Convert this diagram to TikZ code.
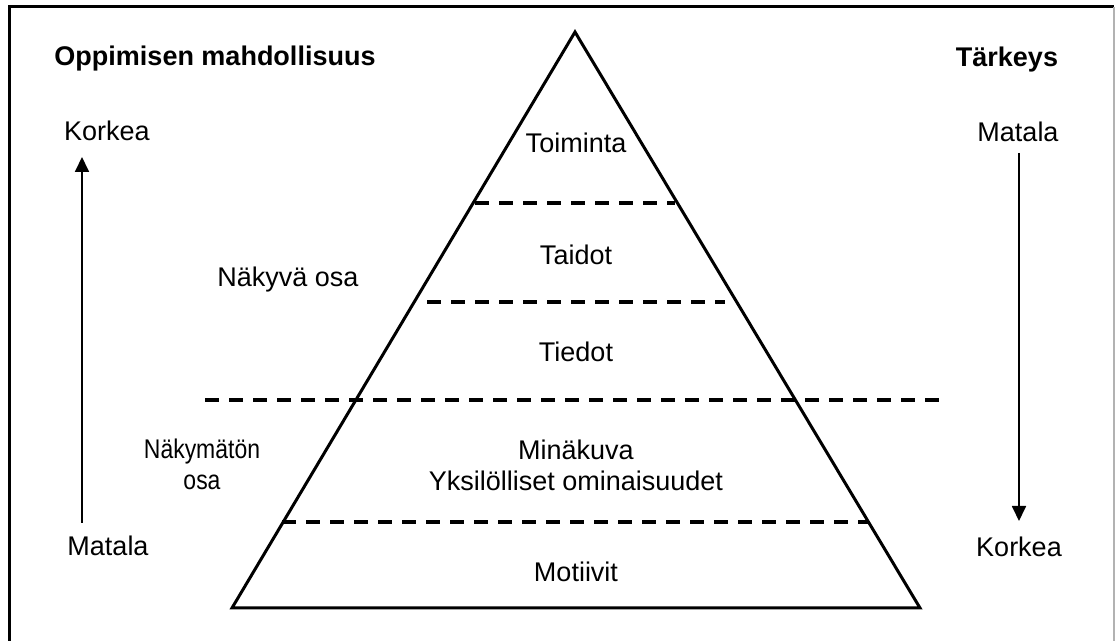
\documentclass[tikz,border=0pt]{standalone}
\usepackage{fontspec}
\setmainfont{Liberation Sans}
\usetikzlibrary{arrows.meta,positioning}
\tikzset{
  lbl/.style={font=\fontsize{13.5}{15.5}\selectfont, inner sep=0pt, anchor=base, align=center},
  hdr/.style={lbl, font=\fontsize{13.5}{15.5}\selectfont\bfseries},
  narrow/.style={lbl, font=\fontsize{13.5}{15.5}\selectfont\addfontfeature{FakeStretch=0.85}},
  cut/.style={line width=2pt, dash pattern=on 7pt off 5pt},
  edge/.style={line width=1.5pt},
  scalearrow/.style={line width=0.9pt, -{Triangle[length=7.5pt,width=7pt]}}
}

\begin{document}
\begin{tikzpicture}[x=0.5pt,y=-0.5pt]
  \useasboundingbox (0,0) rectangle (1116,641);
  % frame (open at the bottom)
  \draw[line width=1.5pt] (9,641) -- (9,7) -- (1114,7);
  \draw[gray!60, line width=0.6pt] (1114,7) -- (1114,641);

  % pyramid
  \coordinate (apex) at (575,32);
  \coordinate (bl) at (232,608);
  \coordinate (br) at (920,608);
  \draw[edge] (apex) -- (br) -- (bl) -- cycle;

  % layer borders
  \foreach \y/\a/\b in {203/475/675, 302/427/725, 400/205/940, 522/282/868}{
    \draw[cut] (\a,\y) -- (\b,\y);
  }

  % layer names
  \foreach \n/\y/\t in {toim/153/Toiminta, taid/265/Taidot, tied/362/Tiedot, moti/582/Motiivit}{
    \node[lbl] (\n) at (576,\y) {\t};
  }
  \node[lbl] (mina) at (576,491) {Minäkuva\\Yksilölliset ominaisuudet};

  % side texts
  \node[hdr] (oppi) at (215,66) {Oppimisen mahdollisuus};
  \node[hdr] (tark) at (1007,67) {Tärkeys};
  \node[lbl] (nakyva) at (288,287) {Näkyvä osa};
  \node[narrow] (nakymaton) at (202,490) {Näkymätön\\osa};

  \node[lbl] (korkeaL) at (107,141) {Korkea};
  \node[lbl] (matalaL) at (108,556) {Matala};
  \node[lbl] (matalaR) at (1018,142) {Matala};
  \node[lbl] (korkeaR) at (1019,557) {Korkea};

  % scales
  \coordinate (lowL) at (82,523);
  \coordinate (highL) at (82,157);
  \coordinate (topR) at (1019,153);
  \coordinate (botR) at (1019,521);
  \draw[scalearrow] (lowL) -- (highL);
  \draw[scalearrow] (topR) -- (botR);
\end{tikzpicture}
\end{document}
